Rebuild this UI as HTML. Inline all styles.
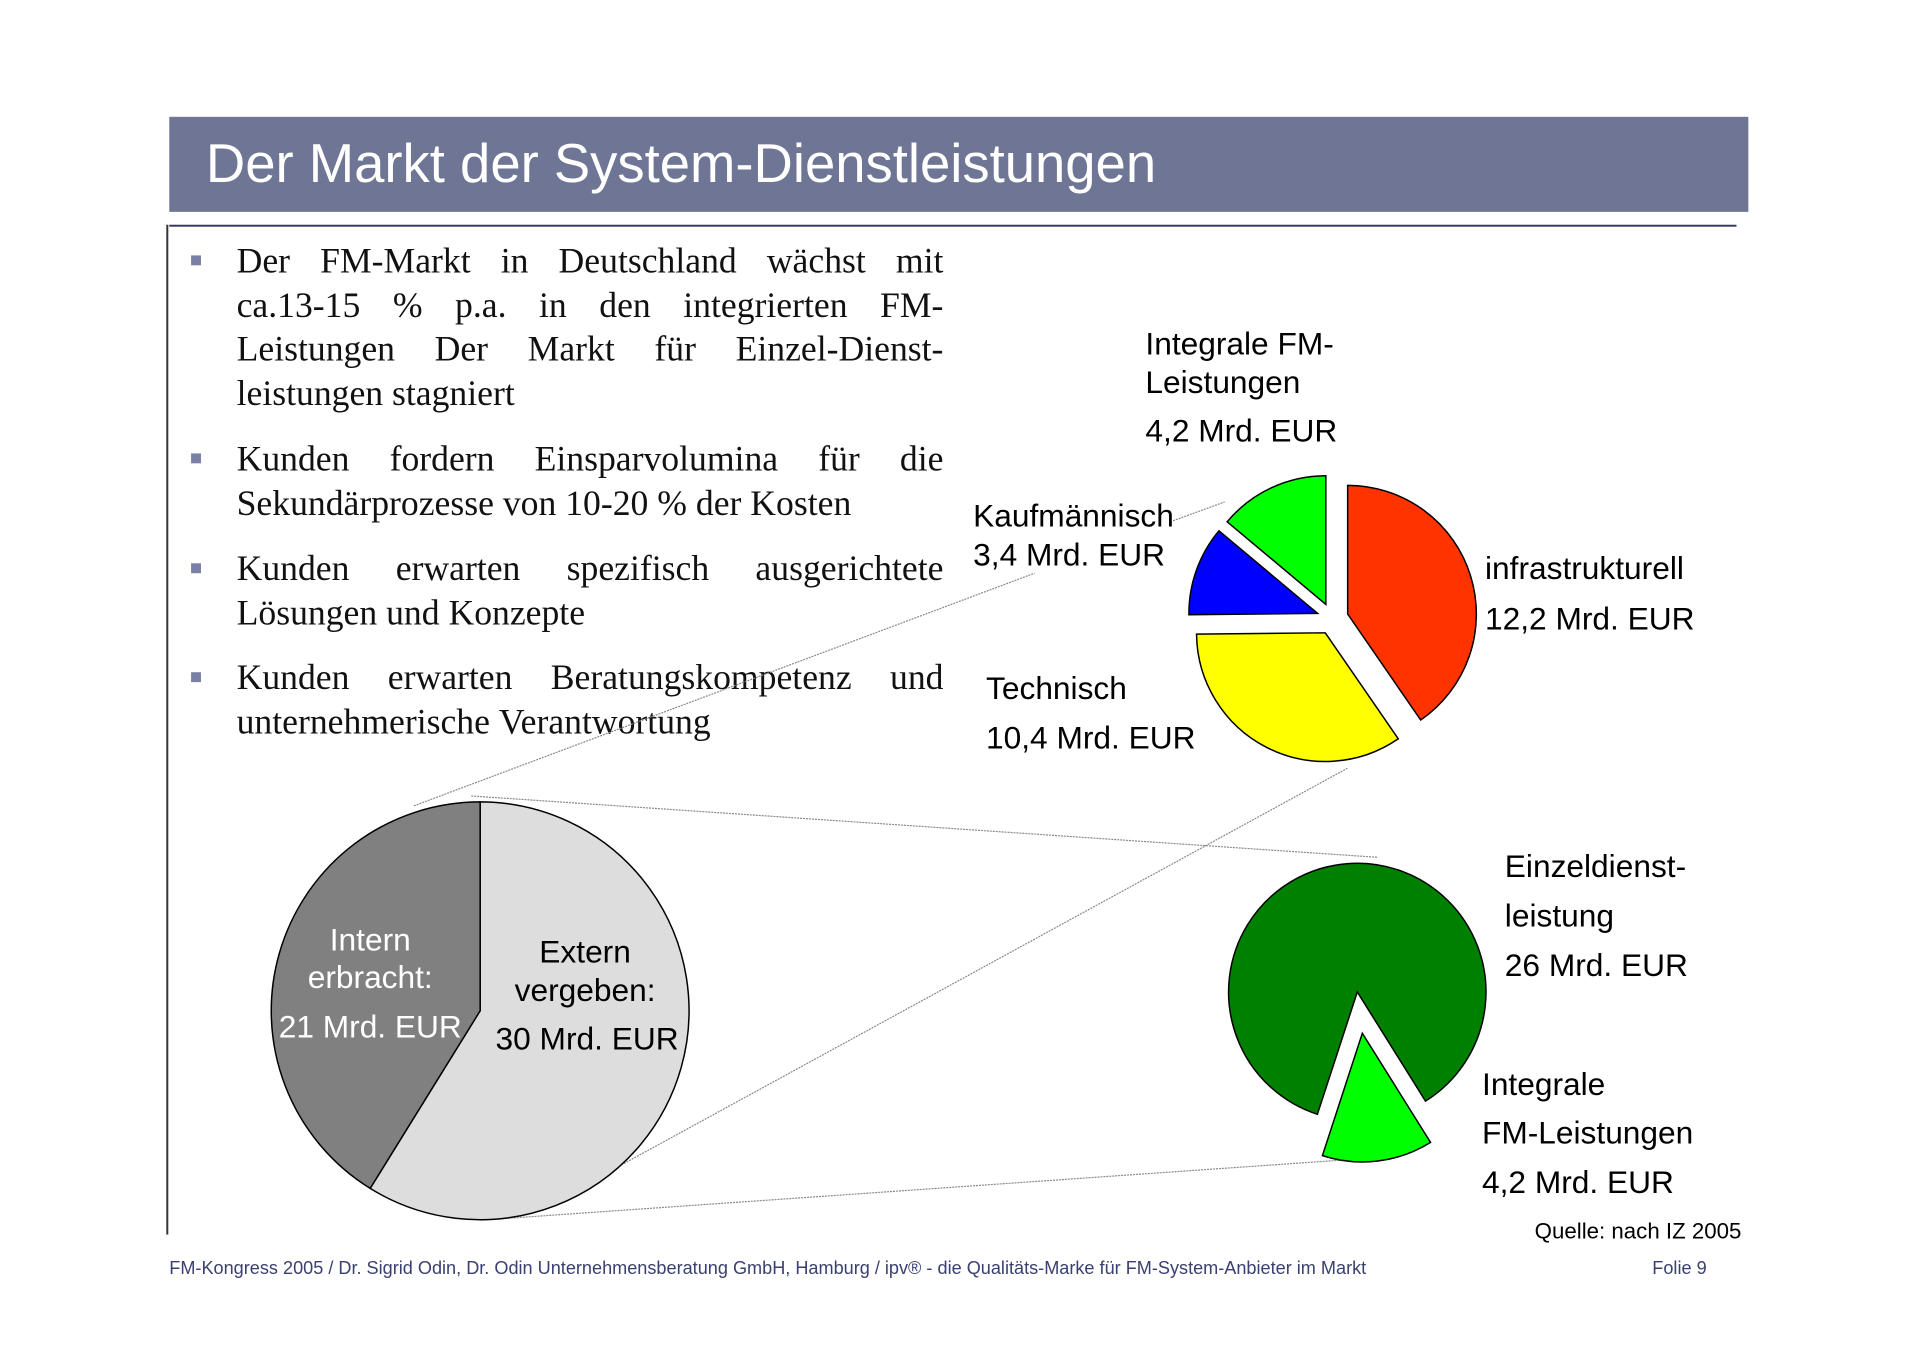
<!DOCTYPE html>
<html><head><meta charset="utf-8"><style>
body{margin:0;width:1920px;height:1357px;background:#fff;position:relative;overflow:hidden;font-family:"Liberation Sans",sans-serif}
#wrap{position:absolute;left:0;top:0;width:1920px;height:1357px;transform:scale(0.99);transform-origin:0 0}
.b{position:absolute;left:239px;width:714px;font-family:"Liberation Serif",serif;font-size:36px;line-height:44.5px;color:#111}
.b div{text-align:justify;text-align-last:justify;white-space:nowrap;display:flex;justify-content:space-between}
.b div.l{justify-content:flex-start;gap:9px}
.sq{position:absolute;left:193px;width:10px;height:10px;background:#7a7fa6}
</style></head><body><div id="wrap">
<div style="position:absolute;left:171px;top:118px;width:1595px;height:96px;background:#6f7594"></div>
<div style="position:absolute;left:208px;top:134px;color:#fff;font-size:55px;line-height:62px">Der Markt der System-Dienstleistungen</div>
<div style="position:absolute;left:171px;top:227px;width:1583px;height:2px;background:#333a60"></div>
<div style="position:absolute;left:168px;top:227px;width:2px;height:1020px;background:#333"></div>

<div class="sq" style="top:258px"></div>
<div class="b" style="top:241px">
<div><span>Der</span><span>FM-Markt</span><span>in</span><span>Deutschland</span><span>wächst</span><span>mit</span></div>
<div><span>ca.13-15</span><span>%</span><span>p.a.</span><span>in</span><span>den</span><span>integrierten</span><span>FM-</span></div>
<div><span>Leistungen</span><span>Der</span><span>Markt</span><span>für</span><span>Einzel-Dienst-</span></div>
<div class="l"><span>leistungen</span><span>stagniert</span></div>
</div>
<div class="sq" style="top:458px"></div>
<div class="b" style="top:441px">
<div><span>Kunden</span><span>fordern</span><span>Einsparvolumina</span><span>für</span><span>die</span></div>
<div class="l"><span>Sekundärprozesse</span><span>von</span><span>10-20</span><span>%</span><span>der</span><span>Kosten</span></div>
</div>
<div class="sq" style="top:569px"></div>
<div class="b" style="top:552px">
<div><span>Kunden</span><span>erwarten</span><span>spezifisch</span><span>ausgerichtete</span></div>
<div class="l"><span>Lösungen</span><span>und</span><span>Konzepte</span></div>
</div>
<div class="sq" style="top:679px"></div>
<div class="b" style="top:662px">
<div><span>Kunden</span><span>erwarten</span><span>Beratungskompetenz</span><span>und</span></div>
<div class="l"><span>unternehmerische</span><span>Verantwortung</span></div>
</div>

<svg id="chart" width="1920" height="1357" style="position:absolute;left:0;top:0" font-family="Liberation Sans, sans-serif">
<g stroke="#888" stroke-width="1.2" stroke-dasharray="2,1">
<line x1="418" y1="814" x2="1045" y2="579"/><line x1="1185" y1="526" x2="1237" y2="507"/>
<line x1="596" y1="1194" x2="1361" y2="776"/><line x1="476" y1="804" x2="1392" y2="866"/>
<line x1="507" y1="1231" x2="1410" y2="1168"/>
</g>
<g id="pies"></g>
<g font-size="32" fill="#000">
<text x="1157" y="358">Integrale FM-</text>
<text x="1157" y="397">Leistungen</text>
<text x="1157" y="446">4,2 Mrd. EUR</text>
<text x="983" y="532">Kaufmännisch</text>
<text x="983" y="571">3,4 Mrd. EUR</text>
<text x="1500" y="585">infrastrukturell</text>
<text x="1500" y="636">12,2 Mrd. EUR</text>
<text x="996" y="706">Technisch</text>
<text x="996" y="756">10,4 Mrd. EUR</text>
<text x="1520" y="886">Einzeldienst-</text>
<text x="1520" y="936">leistung</text>
<text x="1520" y="986">26 Mrd. EUR</text>
<text x="1497" y="1106">Integrale</text>
<text x="1497" y="1155">FM-Leistungen</text>
<text x="1497" y="1205">4,2 Mrd. EUR</text>
<g text-anchor="middle">
<text x="374" y="960" fill="#fff">Intern</text>
<text x="374" y="998" fill="#fff">erbracht:</text>
<text x="374" y="1048" fill="#fff">21 Mrd. EUR</text>
<text x="591" y="972">Extern</text>
<text x="591" y="1011">vergeben:</text>
<text x="593" y="1060">30 Mrd. EUR</text>
</g>
<text x="1759" y="1251" font-size="22.5" text-anchor="end">Quelle: nach IZ 2005</text>
</g>
<text x="171" y="1287" font-size="18.3" fill="#3a4070">FM-Kongress 2005 / Dr. Sigrid Odin, Dr. Odin Unternehmensberatung GmbH, Hamburg  / ipv® - die Qualitäts-Marke für FM-System-Anbieter im Markt</text>
<text x="1669" y="1287" font-size="18.3" fill="#3a4070">Folie 9</text>
</svg>
</div>
<script>
const topCats=['infrastrukturell','Technisch','Kaufmännisch','Integrale FM-Leistungen'];
const topVals=[12.2,10.4,3.4,4.2];
const topColors=['#ff3300','#ffff00','#0000ff','#00ff00'];
const bigCats=['Extern vergeben','Intern erbracht'];
const bigVals=[30,21];
const bigColors=['#dddddd','#808080'];
const botCats=['Einzeldienstleistung','Integrale FM-Leistungen'];
const botVals=[26,4.2];
const botColors=['#008000','#00ff00'];
const NS='http://www.w3.org/2000/svg';
const g=document.getElementById('pies');
function pt(cx,cy,r,a){return [cx+r*Math.sin(a),cy-r*Math.cos(a)];}
function pie(cats,vals,cols,cx,cy,r,explode,start,names){
  const tot=vals.reduce((a,b)=>a+b,0);let a0=start;
  vals.forEach((v,i)=>{
    const a1=a0+v/tot*2*Math.PI;const mid=(a0+a1)/2;const d=explode[i];
    const ox=cx+d*Math.sin(mid),oy=cy-d*Math.cos(mid);
    const p0=pt(ox,oy,r,a0),p1=pt(ox,oy,r,a1);
    const p=document.createElementNS(NS,'path');
    p.setAttribute('d',`M${ox},${oy}L${p0[0]},${p0[1]}A${r},${r} 0 ${a1-a0>Math.PI?1:0} 1 ${p1[0]},${p1[1]}Z`);
    p.setAttribute('fill',cols[i]);p.setAttribute('stroke','#000');p.setAttribute('stroke-width','1.5');
    
    
    g.appendChild(p);a0=a1;
  });
}
pie(topCats,topVals,topColors,1346,625,130,[16,16,16,16],0,'top-pie');
pie(bigCats,bigVals,bigColors,485,1021,211,[0,0],0,'big-pie');
pie(botCats,botVals,botColors,1371,1002,130,[0,42],Math.PI*(148/180)-2*Math.PI*26/30.2,'bottom-pie');
</script>
</body></html>
